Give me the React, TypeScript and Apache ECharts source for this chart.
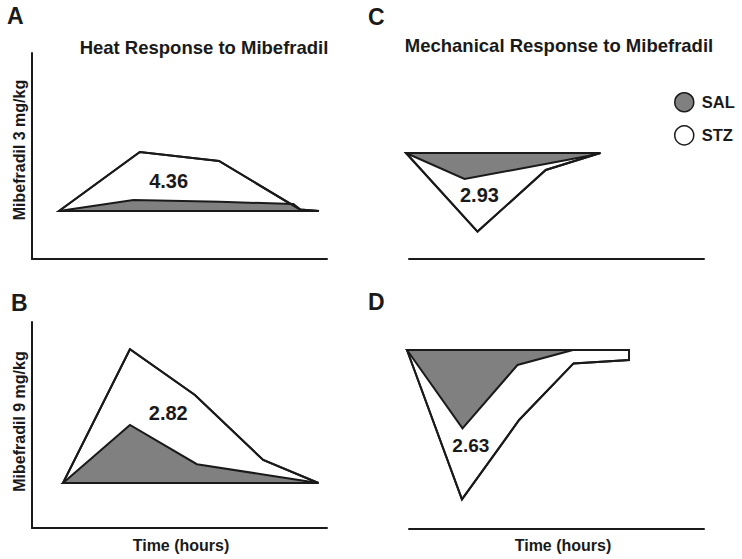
import React, { useEffect, useRef } from "react";
import * as echarts from "echarts";

// ---- Data (time in hours, response in arbitrary units; baseline = 0) ----
// Panel A: Heat, Mibefradil 3 mg/kg
const A_STZ_T = [0, 1.01, 2.0, 3.01, 3.25];
const A_STZ_V = [0, 29.5, 25, 0.8, 0];
const A_SAL_T = [0, 0.93, 2.01, 2.93, 3.04];
const A_SAL_V = [0, 5.5, 4.6, 3.5, 0];
// Panel B: Heat, Mibefradil 9 mg/kg
const B_STZ_T = [0, 1.03, 2.03, 3.08, 3.93];
const B_STZ_V = [0, 66.9, 44, 11.5, 0];
const B_SAL_T = [0, 1.03, 2.06, 3.13, 3.93];
const B_SAL_V = [0, 29, 9.4, 4, 0];
// Panel C: Mechanical, Mibefradil 3 mg/kg
const C_STZ_T = [0, 1.1, 2.15, 2.99];
const C_STZ_V = [0, -39.3, -8.5, 0];
const C_SAL_T = [0, 0.9, 2.8, 2.99];
const C_SAL_V = [0, -13, -1.5, 0];
// Panel D: Mechanical, Mibefradil 9 mg/kg
const D_STZ_T = [0, 0.99, 2.02, 3.0, 4.0, 4.0];
const D_STZ_V = [0, -74.7, -35, -6.7, -5, 0];
const D_SAL_T = [0, 1.0, 1.99, 2.99];
const D_SAL_V = [0, -39.2, -7.5, 0];

// Ratio annotations
const RATIO_TEXT = ["4.36", "2.82", "2.93", "2.63"];
const RATIO_T = [1.37, 1.62, 1.13, 1.15];
const RATIO_V = [15, 34.8, -21, -47.8];
const RATIO_SIZE = [20, 20, 20, 19];

// Axis ranges per panel (A, B, C, D)
const X_MIN = [-0.3375, -0.477, 0.046, 0.036];
const X_MAX = [3.35, 4.062, 4.585, 5.351];
const Y_MIN = [-24, -22.5, -53, -89.5];
const Y_MAX = [79, 80.5, 50, 14];

const LEGEND_NAMES = ["SAL", "STZ"];
const PANEL_LETTERS = ["A", "B", "C", "D"];
const TITLES = ["Heat Response to Mibefradil", "Mechanical Response to Mibefradil"];
const Y_TITLES = ["Mibefradil 3 mg/kg", "Mibefradil 9 mg/kg"];
const X_TITLE = "Time (hours)";

const FONT = "'Liberation Sans', Arial, Helvetica, sans-serif";
const INK = "#1a1a1a";
const GRAY = "#808080";

const zip = (t: number[], v: number[]) => t.map((x, i) => [x, v[i]]);

function polySeries(
  name: string,
  idx: number,
  pts: number[][],
  fill: string,
  stroke: string,
  z: number
) {
  return {
    type: "custom",
    name,
    xAxisIndex: idx,
    yAxisIndex: idx,
    data: pts,
    z,
    clip: false,
    silent: true,
    renderItem: (params: any, api: any) => {
      if (params.dataIndex !== 0) return null;
      const points = pts.map((p) => api.coord(p));
      return {
        type: "polygon",
        shape: { points },
        style: { fill, stroke, lineWidth: 2, lineJoin: "miter" },
      };
    },
  };
}

function labelSeries(idx: number) {
  return {
    type: "custom",
    name: "ratio" + idx,
    xAxisIndex: idx,
    yAxisIndex: idx,
    data: [[RATIO_T[idx], RATIO_V[idx]]],
    z: 10,
    clip: false,
    silent: true,
    renderItem: (params: any, api: any) => {
      const c = api.coord([api.value(0), api.value(1)]);
      return {
        type: "text",
        x: c[0],
        y: c[1],
        style: {
          text: RATIO_TEXT[idx],
          fontSize: RATIO_SIZE[idx],
          fontWeight: "bold",
          fontFamily: FONT,
          fill: INK,
          align: "center",
          verticalAlign: "middle",
          textAlign: "center",
          textVerticalAlign: "middle",
        },
      };
    },
  };
}

const textEl = (
  text: string,
  x: number,
  y: number,
  size: number,
  align: string,
  rotation = 0
) => ({
  type: "text",
  x,
  y,
  rotation,
  silent: true,
  style: {
    text,
    fontSize: size,
    fontWeight: "bold",
    fontFamily: FONT,
    fill: INK,
    align,
    verticalAlign: "middle",
    textAlign: align,
    textVerticalAlign: "middle",
  },
});

export default function App() {
  const ref = useRef<HTMLDivElement>(null);

  useEffect(() => {
    if (!ref.current) return;
    const chart = echarts.init(ref.current, undefined, { renderer: "svg" });

    const grids = [
      { left: 32, top: 53, width: 295, height: 206 },
      { left: 32, top: 322, width: 295, height: 206 },
      { left: 409, top: 53, width: 295, height: 206 },
      { left: 409, top: 322, width: 295, height: 207 },
    ];

    const xAxes = grids.map((_, i) => ({
      type: "value",
      gridIndex: i,
      min: X_MIN[i],
      max: X_MAX[i],
      axisLine: { show: true, onZero: false, lineStyle: { color: INK, width: 2 } },
      axisTick: { show: false },
      axisLabel: { show: false },
      splitLine: { show: false },
    }));

    const yAxes = grids.map((_, i) => ({
      type: "value",
      gridIndex: i,
      min: Y_MIN[i],
      max: Y_MAX[i],
      axisLine: { show: i < 2, onZero: false, lineStyle: { color: INK, width: 2 } },
      axisTick: { show: false },
      axisLabel: { show: false },
      splitLine: { show: false },
    }));

    const stz = [
      zip(A_STZ_T, A_STZ_V),
      zip(B_STZ_T, B_STZ_V),
      zip(C_STZ_T, C_STZ_V),
      zip(D_STZ_T, D_STZ_V),
    ];
    const sal = [
      zip(A_SAL_T, A_SAL_V),
      zip(B_SAL_T, B_SAL_V),
      zip(C_SAL_T, C_SAL_V),
      zip(D_SAL_T, D_SAL_V),
    ];

    const series: any[] = [];
    for (let i = 0; i < 4; i++) {
      series.push(polySeries("STZ", i, stz[i], "#ffffff", INK, 2));
      series.push(polySeries("SAL", i, sal[i], GRAY, INK, 3));
      series.push(polySeries("STZ", i, stz[i], "none", INK, 4));
      series.push(labelSeries(i));
    }

    chart.setOption({
      animation: false,
      backgroundColor: "#ffffff",
      grid: grids,
      xAxis: xAxes,
      yAxis: yAxes,
      legend: {
        orient: "vertical",
        left: 669,
        top: 87,
        itemWidth: 25,
        itemHeight: 19,
        itemGap: 12.6,
        icon: "circle",
        selectedMode: false,
        textStyle: { fontSize: 16.5, fontWeight: "bold", fontFamily: FONT, color: INK },
        data: [
          { name: LEGEND_NAMES[0], itemStyle: { color: GRAY, borderColor: INK, borderWidth: 1.5 } },
          { name: LEGEND_NAMES[1], itemStyle: { color: "#ffffff", borderColor: INK, borderWidth: 1.5 } },
        ],
      },
      graphic: [
        textEl(PANEL_LETTERS[0], 7, 16, 23, "left"),
        textEl(PANEL_LETTERS[1], 11, 303, 23, "left"),
        textEl(PANEL_LETTERS[2], 368, 16.5, 23, "left"),
        textEl(PANEL_LETTERS[3], 368, 301.7, 23, "left"),
        textEl(TITLES[0], 204, 47, 18.5, "center"),
        textEl(TITLES[1], 559, 45, 18.5, "center"),
        textEl(Y_TITLES[0], 19, 150, 16, "center", Math.PI / 2),
        textEl(Y_TITLES[1], 19, 421.5, 16, "center", Math.PI / 2),
        textEl(X_TITLE, 181, 545, 16, "center"),
        textEl(X_TITLE, 563, 545, 16, "center"),
      ],
      series,
    });

    return () => chart.dispose();
  }, []);

  return (
    <div
      ref={ref}
      style={{ position: "absolute", left: 0, top: 0, width: 742, height: 559, background: "#fff" }}
    />
  );
}
